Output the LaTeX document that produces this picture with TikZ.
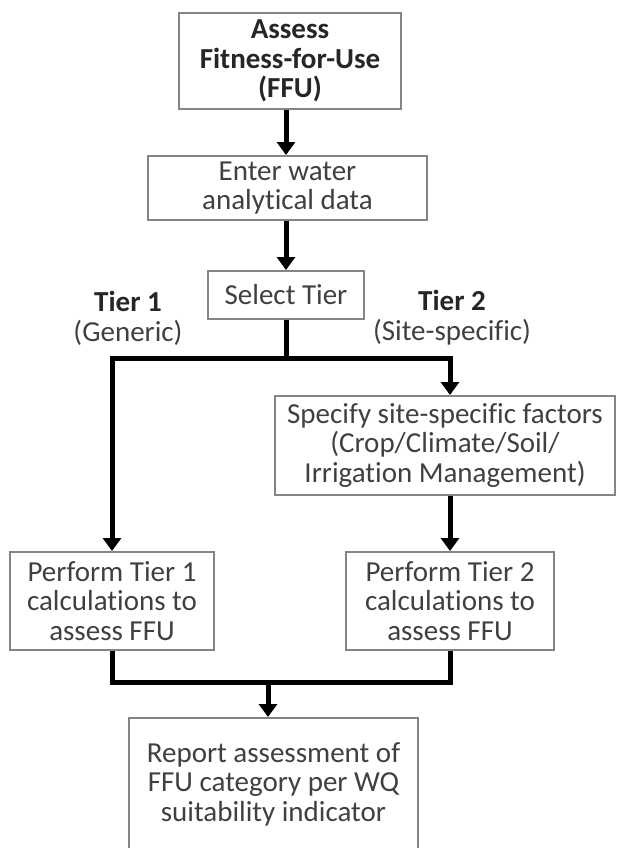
\documentclass[tikz,border=0pt]{standalone}
\usepackage{fontspec}
\setmainfont{Carlito}[Ligatures=NoCommon]
\usetikzlibrary{arrows.meta}
\definecolor{boxgray}{HTML}{858585}
\definecolor{txtgray}{HTML}{404040}
\definecolor{txtdark}{HTML}{262626}
\begin{document}
\begin{tikzpicture}[x=1pt,y=-1pt,
  box/.style={draw=boxgray, line width=2pt, fill=white, align=center, text=txtgray,
    inner sep=0pt, font=\fontsize{29}{29.5}\selectfont},
  lbl/.style={align=center, text=txtgray, inner sep=0pt, font=\fontsize{29}{30}\selectfont},
  flow/.style={line width=5pt, -{Triangle[width=18pt,length=13pt]}},
  link/.style={line width=5pt},
]
\useasboundingbox (0,0) rectangle (619,848);

% process boxes
\node[box, text=txtdark, minimum width=222pt, minimum height=96pt] (n1) at (290,61)
  {\textbf{Assess}\\\textbf{Fitness-for-Use}\\\textbf{(FFU)}};
\node[box, minimum width=279pt, minimum height=64pt] (n2) at (287.5,188)
  {Enter water\\analytical data};
\node[box, minimum width=156pt, minimum height=48pt] (n3) at (286,295)
  {Select Tier};
\node[box, minimum width=340pt, minimum height=99pt] (n4) at (445,445.5)
  {Specify site-specific factors\\(Crop/Climate/Soil/\\Irrigation Management)};
\node[box, minimum width=204pt, minimum height=98pt] (n5) at (112,601)
  {Perform Tier 1\\calculations to\\assess FFU};
\node[box, minimum width=208pt, minimum height=98pt] (n6) at (450,601)
  {Perform Tier 2\\calculations to\\assess FFU};
\node[box, minimum width=289pt, minimum height=132pt] (n7) at (273.5,784)
  {Report assessment of\\FFU category per WQ\\suitability indicator};

% branch labels
\node[lbl] (t1) at (128,318) {\textcolor{txtdark}{\textbf{Tier 1}}\\(Generic)};
\node[lbl] (t2) at (452,318) {\textcolor{txtdark}{\textbf{Tier 2}}\\(Site-specific)};

% connectors
\coordinate (split) at (286,358);
\coordinate (join) at (268,682);
\draw[flow] (n1.south -| n3) -- (n2.north -| n3);
\draw[flow] (n2.south -| n3) -- (n3.north);
\draw[flow] (n3.south) -- (split) -| (n5.north);
\draw[flow] (split) -| (n4.north -| n6.north);
\draw[flow] (n4.south -| n6.north) -- (n6.north);
\draw[link] (n5.south) |- (n6.south |- join) -- (n6.south);
\draw[flow] (join) -- (join |- n7.north);
\end{tikzpicture}
\end{document}
